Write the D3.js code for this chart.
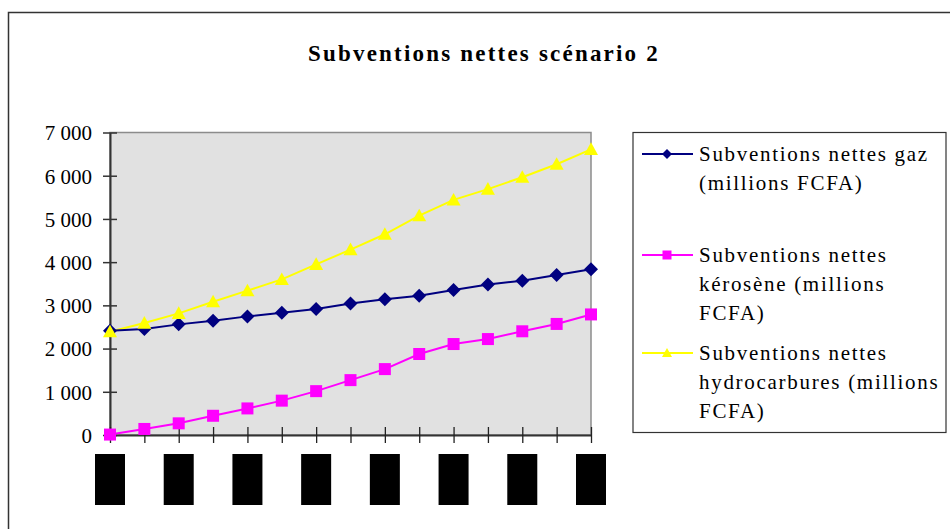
<!DOCTYPE html>
<html>
<head>
<meta charset="utf-8">
<script src="https://cdn.jsdelivr.net/npm/d3@7"></script>
<style>
  body { margin: 0; background: #fff; }
  svg text { font-family: "Liberation Serif", "Times New Roman", serif; fill: #000; }
</style>
</head>
<body>
<div id="chart"></div>
<script>
// categories (their labels are blacked out in the source)
var categories = ["P1", "P2", "P3", "P4", "P5", "P6", "P7", "P8", "P9", "P10", "P11", "P12", "P13", "P14", "P15"];

var gaz = [2410, 2455, 2560, 2645, 2745, 2830, 2915, 3045, 3140, 3225, 3355, 3485, 3570, 3705, 3835];
var kerosene = [10, 140, 270, 445, 615, 795, 1015, 1270, 1525, 1875, 2105, 2220, 2400, 2570, 2790];
var hydrocarbures = [2390, 2590, 2815, 3085, 3340, 3600, 3950, 4290, 4645, 5075, 5440, 5690, 5965, 6265, 6610];

var yTicks = [0, 1000, 2000, 3000, 4000, 5000, 6000, 7000];

var series = [
    { name: ["Subventions nettes gaz", "(millions FCFA)"], values: gaz, color: "#000080", marker: "diamond" },
    { name: ["Subventions nettes", "kérosène (millions", "FCFA)"], values: kerosene, color: "#ff00ff", marker: "square" },
    { name: ["Subventions nettes", "hydrocarbures (millions", "FCFA)"], values: hydrocarbures, color: "#ffff00", marker: "triangle" }
];

function markerPath(type, r) {
    // r = half width of the marker
    if (type === "diamond") return "M0," + (-r) + "L" + r + ",0L0," + r + "L" + (-r) + ",0Z";
    if (type === "square") return "M" + (-r) + "," + (-r) + "H" + r + "V" + r + "H" + (-r) + "Z";
    return "M0," + (-r) + "L" + r + "," + (r * 0.8) + "L" + (-r) + "," + (r * 0.8) + "Z";
}

function draw() {
    var w = 950;
    var h = 529;
    var left = 110, right = 591, top = 132.5, bottom = 435;

    var svg = d3.select("#chart")
                .append("svg")
                .attr("width", w)
                .attr("height", h);

    // outer chart frame (right and bottom edges fall outside the picture)
    svg.append("rect")
        .attr("x", 8.5).attr("y", 12.5)
        .attr("width", 960).attr("height", 540)
        .attr("fill", "none")
        .attr("stroke", "#333")
        .attr("stroke-width", 1.5);

    svg.append("text")
        .attr("x", 484)
        .attr("y", 61)
        .attr("text-anchor", "middle")
        .attr("font-size", "23px")
        .attr("font-weight", "bold")
        .attr("letter-spacing", "2.2px")
        .text("Subventions nettes scénario 2");

    var x = d3.scalePoint()
                .domain(categories)
                .range([left, right])
                .padding(0);

    var y = d3.scaleLinear()
                .domain([0, 7000])
                .range([bottom, top]);

    // plot area
    svg.append("rect")
        .attr("x", left).attr("y", top)
        .attr("width", right - left).attr("height", bottom - top)
        .attr("fill", "#e1e1e1")
        .attr("stroke", "#8c8c8c")
        .attr("stroke-width", 1.5);

    var fmt = d3.formatLocale({ decimal: ",", thousands: " ", grouping: [3], currency: ["", ""] }).format(",");

    var yAxis = svg.append("g")
        .attr("transform", "translate(" + left + ",0)")
        .call(d3.axisLeft(y).tickValues(yTicks).tickFormat(fmt).tickSize(7).tickSizeOuter(0).tickPadding(11));
    yAxis.attr("font-size", null).attr("font-family", null);
    yAxis.selectAll(".tick line").attr("x1", 7).attr("stroke", "#333").attr("stroke-width", 1.5);
    yAxis.select(".domain").attr("stroke", "#333").attr("stroke-width", 2);
    yAxis.selectAll("text")
        .style("font-size", "21px")
        .style("font-family", "'Liberation Serif'")
        .attr("dy", "0.35em");

    var xAxis = svg.append("g")
        .attr("transform", "translate(0," + bottom + ")")
        .call(d3.axisBottom(x).tickSize(8).tickSizeOuter(0).tickFormat(""));
    xAxis.selectAll(".tick line").attr("y1", -8).attr("stroke", "#222").attr("stroke-width", 1.3);
    xAxis.select(".domain").attr("stroke", "#333").attr("stroke-width", 2);

    // category labels are redacted: black boxes on every other category
    svg.selectAll("rect.label")
        .data(categories.filter(function(d, i) { return i % 2 === 0; }))
        .enter()
        .append("rect")
        .attr("class", "label")
        .attr("x", function(d) { return x(d) - 15; })
        .attr("y", 454)
        .attr("width", 30)
        .attr("height", 51)
        .attr("fill", "#000");

    var line = d3.line()
        .x(function(d, i) { return x(categories[i]); })
        .y(function(d) { return y(d); });

    [series[1], series[2], series[0]].forEach(function(s) {
        svg.append("path")
            .datum(s.values)
            .attr("d", line)
            .attr("fill", "none")
            .attr("stroke", s.color)
            .attr("stroke-width", 2);
    });
    [series[1], series[0], series[2]].forEach(function(s) {
        svg.selectAll(null)
            .data(s.values)
            .enter()
            .append("path")
            .attr("transform", function(d, i) { return "translate(" + x(categories[i]) + "," + y(d) + ")"; })
            .attr("d", markerPath(s.marker, s.marker === "square" ? 6 : 7))
            .attr("fill", s.color);
    });

    // legend
    var legend = svg.append("g");
    legend.append("rect")
        .attr("x", 633).attr("y", 132.5)
        .attr("width", 313).attr("height", 300)
        .attr("fill", "#fff")
        .attr("stroke", "#333")
        .attr("stroke-width", 1.2);

    var rowY = [154, 255, 353];
    series.forEach(function(s, k) {
        var cy = rowY[k];
        legend.append("line")
            .attr("x1", 642).attr("x2", 693)
            .attr("y1", cy).attr("y2", cy)
            .attr("stroke", s.color)
            .attr("stroke-width", 2);
        legend.append("path")
            .attr("transform", "translate(667," + cy + ")")
            .attr("d", markerPath(s.marker, s.marker === "square" ? 4.5 : 5))
            .attr("fill", s.color);
        s.name.forEach(function(t, j) {
            legend.append("text")
                .attr("x", 699)
                .attr("y", cy + 7 + j * 29)
                .attr("font-size", "21px")
                .attr("letter-spacing", "1.7px")
                .text(t);
        });
    });
}

window.onload = draw;
</script>
</body>
</html>
